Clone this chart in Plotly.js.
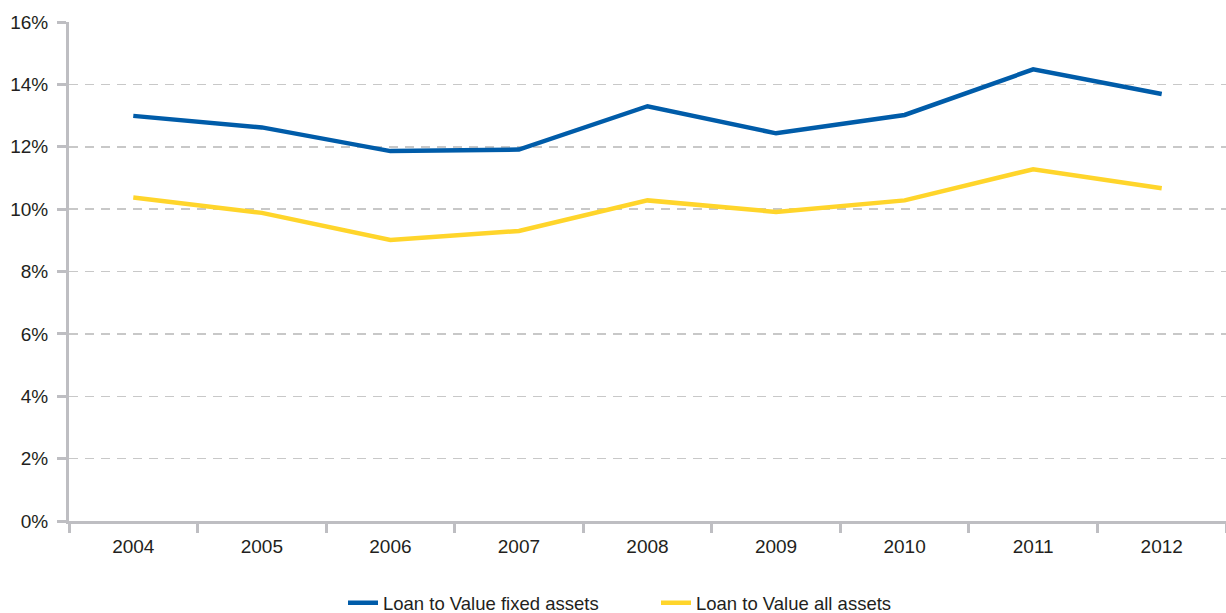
<!DOCTYPE html>
<html><head><meta charset="utf-8">
<script src="https://cdn.plot.ly/plotly-3.0.1.min.js"></script>
<style>html,body{margin:0;padding:0;background:#fff}#chart{width:1226px;height:613px}</style>
</head><body><div id="chart"></div>
<script>
const years = ['2004','2005','2006','2007','2008','2009','2010','2011','2012'];
const ltvFixed = [12.99, 12.62, 11.86, 11.91, 13.30, 12.43, 13.02, 14.48, 13.69];
const ltvAll = [10.37, 9.88, 9.01, 9.30, 10.28, 9.91, 10.28, 11.28, 10.67];
const yTicks = [0, 2, 4, 6, 8, 10, 12, 14, 16];
const yTickText = yTicks.map(v => v + '%');

const font = {family: 'Liberation Sans, Arial, sans-serif', size: 19, color: '#231f20'};
const legFont = {family: 'Liberation Sans, Arial, sans-serif', size: 18.5, color: '#231f20'};
const traces = [
  {x: years, y: ltvFixed, name: 'Loan to Value fixed assets', type: 'scatter', mode: 'lines',
   line: {color: '#005ca9', width: 4.5}, legend: 'legend'},
  {x: years, y: ltvAll, name: 'Loan to Value all assets', type: 'scatter', mode: 'lines',
   line: {color: '#ffd52b', width: 4.5}, legend: 'legend2'}
];
const legBase = {orientation: 'h', xref: 'container', yref: 'container', xanchor: 'left',
                 y: 0.016, yanchor: 'middle', font: legFont, bgcolor: 'rgba(0,0,0,0)'};
const layout = {
  width: 1226, height: 613,
  margin: {l: 69, r: 0, t: 22, b: 92},
  paper_bgcolor: '#fff', plot_bgcolor: '#fff',
  font: font,
  showlegend: true,
  legend: Object.assign({}, legBase, {x: 343 / 1226}),
  legend2: Object.assign({}, legBase, {x: 656 / 1226}),
  xaxis: {type: 'category', range: [-0.5, 8.5], showgrid: false, zeroline: false,
          showline: true, linecolor: '#bebec2', linewidth: 3,
          ticks: 'outside', tickson: 'boundaries', ticklen: 9, tickwidth: 3, tickcolor: '#bebec2',
          tickfont: font, ticklabelstandoff: 6},
  yaxis: {range: [0, 16], tickvals: yTicks, ticktext: yTickText, showgrid: true,
          gridcolor: '#c8c8c8', gridwidth: 1.5, griddash: '9px,7px', zeroline: false,
          showline: true, linecolor: '#bebec2', linewidth: 3,
          ticks: 'outside', ticklen: 9, tickwidth: 3, tickcolor: '#bebec2',
          tickfont: font, ticklabelstandoff: 5}
};
Plotly.newPlot('chart', traces, layout, {displayModeBar: false, staticPlot: true});
</script></body></html>
